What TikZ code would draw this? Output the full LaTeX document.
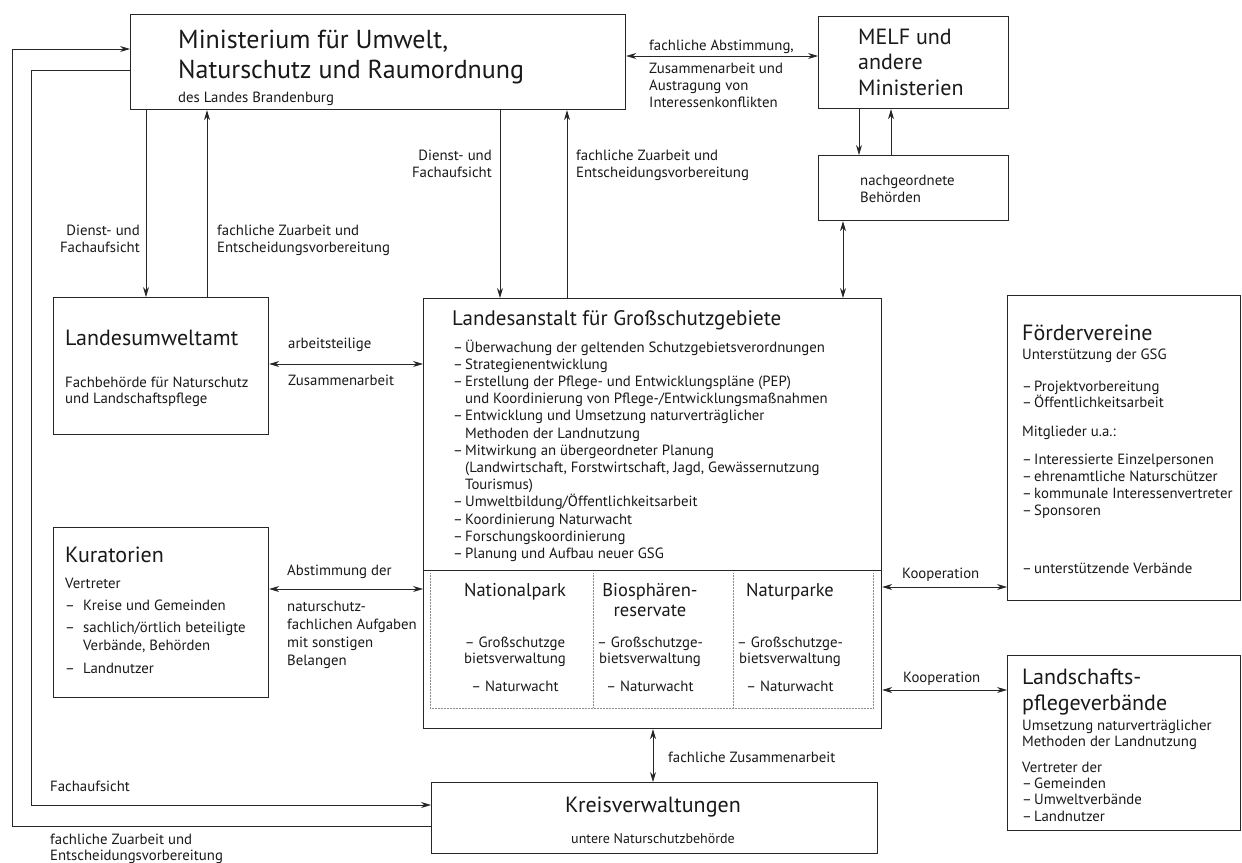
\documentclass[tikz,border=0pt]{standalone}
\usepackage{fontspec}
\setmainfont{PT Sans}
\usetikzlibrary{arrows.meta}
\newcommand\itdash{\makebox[12pt][l]{–}}
\newcommand\itcont{\hspace*{12pt}}
\newcommand\kdash{\makebox[18pt][l]{–}}
\newcommand\kcont{\hspace*{18pt}}
\begin{document}
\begin{tikzpicture}[x=1pt,y=-1pt,
  box/.style={draw=black!85, line width=1.2pt, inner sep=0pt, anchor=north west},
  conn/.style={draw=black!85, line width=0.8pt},
  arr/.style={conn,-{Stealth[length=10pt,width=6pt]}},
  darr/.style={conn,{Stealth[length=10pt,width=6pt]}-{Stealth[length=10pt,width=6pt]}},
  txt/.style={inner sep=0pt, text=black!90, align=left, anchor=base west, font=\fontsize{14.8}{17.2}\selectfont},
  rtxt/.style={txt, align=right, anchor=base east},
  ctxt/.style={txt, align=center, anchor=base},
  big/.style={txt, font=\fontsize{22}{26}\selectfont},
  huge/.style={txt, font=\fontsize{26}{30}\selectfont},
  col/.style={ctxt, font=\fontsize{18.5}{20}\selectfont},
  grid/.style={draw=black!45, line width=0.5pt, densely dotted}
]
\useasboundingbox (0,0) rectangle (1242,862);
\fill[white] (0,0) rectangle (1242,862);

% boxes
\node[box, minimum width=495, minimum height=95] (min) at (130,14) {};
\node[box, minimum width=190, minimum height=92] (melf) at (818,16) {};
\node[box, minimum width=190, minimum height=65] (nach) at (818,155) {};
\node[box, minimum width=215, minimum height=137] (lua) at (53,297) {};
\node[box, minimum width=458, minimum height=430] (la) at (423,298) {};
\node[box, minimum width=215, minimum height=170] (kur) at (53,527) {};
\node[box, minimum width=233, minimum height=305] (foerd) at (1007,295) {};
\node[box, minimum width=233, minimum height=175] (lpv) at (1007,655) {};
\node[box, minimum width=446, minimum height=71] (kreis) at (431,782) {};

% divider and dotted grid in Landesanstalt
\coordinate (dv) at (0,570);
\draw[line width=1pt, black!85] (la.west |- dv) -- (la.east |- dv);
\draw[grid] (430,573) -- (430,708) -- (873,708) -- (873,573);
\draw[grid] (593,573) -- (593,708);
\draw[grid] (733,573) -- (733,708);

% coordinates for connectors
\coordinate (cMa) at (859,0);
\coordinate (cMb) at (891,0);
\coordinate (cNL) at (843,0);
\coordinate (cA1) at (146,0);
\coordinate (cA2) at (207,0);
\coordinate (cB1) at (500,0);
\coordinate (cB2) at (567,0);
\coordinate (cK) at (653,0);
\coordinate (cOut) at (12,0);
\coordinate (cIn) at (31,0);
\coordinate (yMM) at (0,56);
\coordinate (yLU) at (0,364);
\coordinate (yKu) at (0,589);
\coordinate (yK1) at (0,587);
\coordinate (yK2) at (0,690);
\coordinate (yT1) at (0,49);
\coordinate (yT2) at (0,70);
\coordinate (yF) at (0,805);
\coordinate (yZ) at (0,826);

% connectors
\draw[darr] (min.east |- yMM) -- (melf.west |- yMM);
\draw[arr] (melf.south -| cMa) -- (nach.north -| cMa);
\draw[arr] (nach.north -| cMb) -- (melf.south -| cMb);
\draw[darr] (nach.south -| cNL) -- (la.north -| cNL);
\draw[arr] (min.south -| cA1) -- (lua.north -| cA1);
\draw[arr] (lua.north -| cA2) -- (min.south -| cA2);
\draw[arr] (min.south -| cB1) -- (la.north -| cB1);
\draw[arr] (la.north -| cB2) -- (min.south -| cB2);
\draw[darr] (lua.east |- yLU) -- (la.west |- yLU);
\draw[darr] (kur.east |- yKu) -- (la.west |- yKu);
\draw[darr] (la.east |- yK1) -- (foerd.west |- yK1);
\draw[darr] (la.east |- yK2) -- (lpv.west |- yK2);
\draw[darr] (la.south -| cK) -- (kreis.north -| cK);
\draw[arr] (kreis.west |- yZ) -| (cOut |- yT1) -- (min.west |- yT1);
\draw[arr] (min.west |- yT2) -| (cIn |- yF) -- (kreis.west |- yF);

% (multi-line nodes are placed by the baseline of their last line)
% Ministerium
\node[huge] (minT) at (178,78) {Ministerium für Umwelt,\\Naturschutz und Raumordnung};
\node[txt] (minS) at (178,102) {des Landes Brandenburg};
% MELF
\node[big, font=\fontsize{22}{25.5}\selectfont] (melfT) at (858,95) {MELF und\\andere\\Ministerien};
\node[txt] (lAbst) at (649,50) {fachliche Abstimmung,};
\node[txt] (lZus) at (649,107.4) {Zusammenarbeit und\\Austragung von\\Interessenkonflikten};
% nachgeordnete
\node[txt] (nachT) at (860,202.2) {nachgeordnete\\Behörden};
% arrow labels
\node[rtxt] (lDA) at (140,252.2) {Dienst- und\\Fachaufsicht};
\node[txt] (lZA) at (217,252.2) {fachliche Zuarbeit und\\Entscheidungsvorbereitung};
\node[rtxt] (lDB) at (492,177.2) {Dienst- und\\Fachaufsicht};
\node[txt] (lZB) at (576,177.2) {fachliche Zuarbeit und\\Entscheidungsvorbereitung};
% Landesumweltamt
\node[big] (luaT) at (65,345) {Landesumweltamt};
\node[txt, font=\fontsize{14.8}{16.5}\selectfont] (luaS) at (65,403.5) {Fachbehörde für Naturschutz\\und Landschaftspflege};
\node[txt] (lArb) at (288,348) {arbeitsteilige};
\node[txt] (lArb2) at (288,385) {Zusammenarbeit};
% Landesanstalt
\node[txt, font=\fontsize{21}{24}\selectfont] (laT) at (452,325) {Landesanstalt für Großschutzgebiete};
\node[txt] (laL) at (453,558.4) {\itdash Überwachung der geltenden Schutzgebietsverordnungen\\
\itdash Strategienentwicklung\\
\itdash Erstellung der Pflege- und Entwicklungspläne (PEP)\\
\itcont und Koordinierung von Pflege-/Entwicklungsmaßnahmen\\
\itdash Entwicklung und Umsetzung naturverträglicher\\
\itcont Methoden der Landnutzung\\
\itdash Mitwirkung an übergeordneter Planung\\
\itcont (Landwirtschaft, Forstwirtschaft, Jagd, Gewässernutzung\\
\itcont Tourismus)\\
\itdash Umweltbildung/Öffentlichkeitsarbeit\\
\itdash Koordinierung Naturwacht\\
\itdash Forschungskoordinierung\\
\itdash Planung und Aufbau neuer GSG};
\node[col] (npT) at (515,596) {Nationalpark};
\node[col] (brT) at (650,616) {Biosphären-\\reservate};
\node[col] (nkT) at (790,596) {Naturparke};
\node[ctxt, font=\fontsize{14.8}{16.5}\selectfont] (npL) at (515,663.5) {– Großschutzge\\bietsverwaltung};
\node[ctxt, font=\fontsize{14.8}{16.5}\selectfont] (brL) at (650,663.5) {– Großschutzge-\\bietsverwaltung};
\node[ctxt, font=\fontsize{14.8}{16.5}\selectfont] (nkL) at (790,663.5) {– Großschutzge-\\bietsverwaltung};
\node[ctxt] (npW) at (515,691) {– Naturwacht};
\node[ctxt] (brW) at (650,691) {– Naturwacht};
\node[ctxt] (nkW) at (790,691) {– Naturwacht};
% Kooperation labels
\node[txt] (lKo1) at (902,578) {Kooperation};
\node[txt] (lKo2) at (903,682) {Kooperation};
% Foerdervereine
\node[big] (foT) at (1022,340) {Fördervereine};
\node[txt] (foS) at (1022,359) {Unterstützung der GSG};
\node[txt, font=\fontsize{14.8}{16}\selectfont] (foL1) at (1022,407) {\itdash Projektvorbereitung\\\itdash Öffentlichkeitsarbeit};
\node[txt] (foM) at (1022,436) {Mitglieder u.a.:};
\node[txt, font=\fontsize{14.8}{17}\selectfont] (foL2) at (1022,515) {\itdash Interessierte Einzelpersonen\\\itdash ehrenamtliche Naturschützer\\\itdash kommunale Interessenvertreter\\\itdash Sponsoren};
\node[txt] (foL3) at (1022,573) {\itdash unterstützende Verbände};
% Landschaftspflegeverbaende
\node[big] (lpT) at (1022,710) {Landschafts-\\pflegeverbände};
\node[txt, font=\fontsize{14.8}{16}\selectfont] (lpS) at (1022,746) {Umsetzung naturverträglicher\\Methoden der Landnutzung};
\node[txt, font=\fontsize{14.8}{16.3}\selectfont] (lpV) at (1022,821) {Vertreter der\\\itdash Gemeinden\\\itdash Umweltverbände\\\itdash Landnutzer};
% Kuratorien
\node[big] (kuT) at (65,562) {Kuratorien};
\node[txt] (kuV) at (65,588) {Vertreter};
\node[txt] (kuL1) at (65,610) {\kdash Kreise und Gemeinden};
\node[txt, font=\fontsize{14.8}{18}\selectfont] (kuL2) at (65,650) {\kdash sachlich/örtlich beteiligte\\\kcont Verbände, Behörden};
\node[txt] (kuL3) at (65,673) {\kdash Landnutzer};
\node[txt] (lAbs) at (287,575) {Abstimmung der};
\node[txt, font=\fontsize{14.8}{17.7}\selectfont] (lAbs2) at (287,665) {naturschutz-\\fachlichen Aufgaben\\mit sonstigen\\Belangen};
% Kreisverwaltungen
\node[ctxt, font=\fontsize{22}{26}\selectfont] (krT) at (653,812) {Kreisverwaltungen};
\node[ctxt, font=\fontsize{14}{16}\selectfont] (krS) at (653,843) {untere Naturschutzbehörde};
\node[txt] (lFZ) at (668,762) {fachliche Zusammenarbeit};
\node[txt] (lFA) at (50,791) {Fachaufsicht};
\node[txt, font=\fontsize{14.8}{16}\selectfont] (lFZE) at (50,860) {fachliche Zuarbeit und\\Entscheidungsvorbereitung};
\end{tikzpicture}
\end{document}
